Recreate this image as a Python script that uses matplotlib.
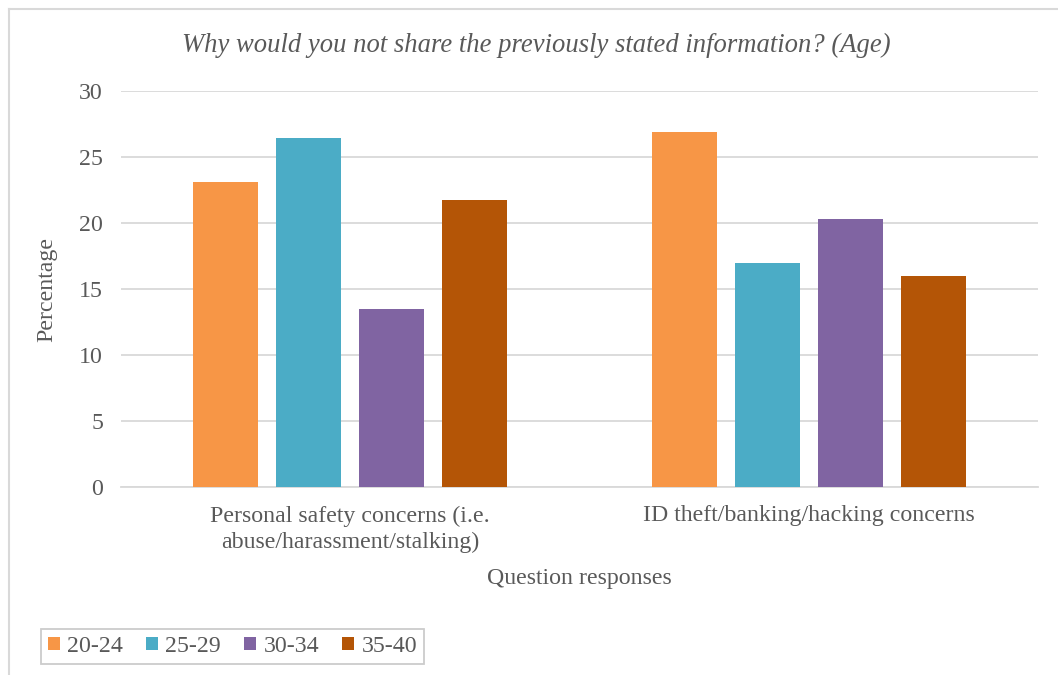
import matplotlib.pyplot as plt
import matplotlib.lines as mlines
import numpy as np

categories = ['Personal safety concerns (i.e.\nabuse/harassment/stalking)',
              'ID theft/banking/hacking concerns']
age_groups = ['20-24', '25-29', '30-34', '35-40']
age_20_24 = [23.1, 26.9]
age_25_29 = [26.4, 16.95]
age_30_34 = [13.5, 20.3]
age_35_40 = [21.7, 16.0]

colors = ['#F79646', '#4BACC6', '#8064A2', '#B45506']
text_col = '#595959'
grid_col = '#D9D9D9'

plt.rcParams['font.family'] = ['Liberation Serif', 'DejaVu Serif']

fig = plt.figure(figsize=(10.58, 6.75), dpi=100)
ax = fig.add_axes([121/1058, 1 - 487.3/675, 917/1058, 396.6/675])

x = np.arange(len(categories))
pitch = 0.1812
width = 0.142
series = [age_20_24, age_25_29, age_30_34, age_35_40]
for i, vals in enumerate(series):
    ax.bar(x + (i - 1.5) * pitch, vals, width, color=colors[i], label=age_groups[i], zorder=3)

ax.set_xlim(-0.5, 1.5)
ax.set_ylim(0, 30)
ax.set_yticks(range(0, 31, 5))
ax.yaxis.grid(True, color=grid_col, linewidth=1.3, zorder=0)
ax.set_xticks(x)
ax.set_xticklabels(categories, fontsize=17.2, color=text_col, linespacing=1.3)
ax.tick_params(axis='both', length=0, labelsize=17.2, labelcolor=text_col)
ax.tick_params(axis='x', pad=13)
ax.tick_params(axis='y', pad=13)
for s in ['top', 'right', 'left']:
    ax.spines[s].set_visible(False)
ax.spines['bottom'].set_color(grid_col)
ax.spines['bottom'].set_linewidth(1.3)

ax.set_ylabel('Percentage', fontsize=17.2, color=text_col, labelpad=16)
ax.set_xlabel('Question responses', fontsize=17.2, color=text_col, labelpad=11)
fig.text(536/1058, 1 - 45/675, 'Why would you not share the previously stated information? (Age)',
         fontsize=19.2, style='italic', color=text_col, ha='center', va='center')

leg = fig.legend(loc='lower left', bbox_to_anchor=(41/1058, 1 - 664/675), ncol=4,
                 fontsize=17.2, frameon=True, fancybox=False, edgecolor='#BFBFBF',
                 handlelength=0.5, handleheight=0.5, handletextpad=0.3,
                 columnspacing=0.97, borderaxespad=0, borderpad=0.3)
leg.get_frame().set_linewidth(1.3)
for t in leg.get_texts():
    t.set_color(text_col)

# outer chart border (left and top visible)
fig.add_artist(mlines.Line2D([9/1058, 9/1058], [0, 1 - 9/675], color=grid_col, linewidth=1.5))
fig.add_artist(mlines.Line2D([9/1058, 1], [1 - 9/675, 1 - 9/675], color=grid_col, linewidth=1.5))

plt.savefig('out.png', dpi=100)
